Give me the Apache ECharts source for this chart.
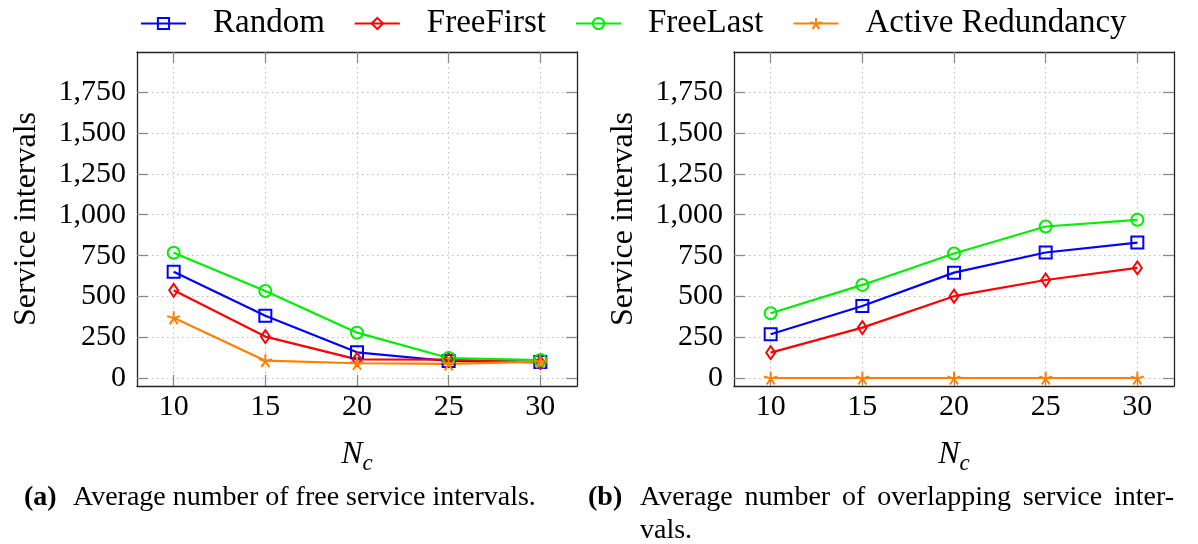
<!DOCTYPE html>
<html>
<head>
<meta charset="utf-8">
<script src="https://cdn.jsdelivr.net/npm/echarts@6/dist/echarts.min.js"></script>
<style>
  html, body { margin: 0; padding: 0; background: #fff; }
  #chart { width: 1198px; height: 544px; }
</style>
</head>
<body>
<div id="chart"></div>
<script>
// Number of components N_c
const nc = [10, 15, 20, 25, 30];
const xTicks = [10, 15, 20, 25, 30];
const yTicks = [0, 250, 500, 750, 1000, 1250, 1500, 1750];

// (a) average number of free service intervals
const freeRandom     = [652, 383, 159, 106, 100];
const freeFreeFirst  = [538, 255, 116, 114, 96];
const freeFreeLast   = [768, 534, 279, 124, 112];
const freeActive     = [371, 108, 92, 88, 102];

// (b) average number of overlapping service intervals
const overRandom     = [269, 442, 646, 769, 830];
const overFreeFirst  = [157, 310, 502, 601, 675];
const overFreeLast   = [398, 571, 763, 928, 969];
const overActive     = [2, 2, 2, 2, 2];

const seriesNames = ['Random', 'FreeFirst', 'FreeLast', 'Active Redundancy'];

const FONT = "'Liberation Serif', 'DejaVu Serif', serif";
const colors = {
  'Random': '#0000ff',
  'FreeFirst': '#ff0000',
  'FreeLast': '#00ee00',
  'Active Redundancy': '#ff8000'
};
const STAR = 'path://M0 -10 L0 0 M9.51 -3.09 L0 0 M5.88 8.09 L0 0 M-5.88 8.09 L0 0 M-9.51 -3.09 L0 0';
const symbols = {
  'Random': { symbol: 'rect', size: 12 },
  'FreeFirst': { symbol: 'diamond', size: [9, 13] },
  'FreeLast': { symbol: 'circle', size: 12 },
  'Active Redundancy': { symbol: STAR, size: 13 }
};

function pairs(xs, ys) { return xs.map((x, i) => [x, ys[i]]); }

function lineSeries(name, values, idx) {
  const c = colors[name];
  return {
    type: 'line',
    name: name,
    xAxisIndex: idx * 2,
    yAxisIndex: idx * 2,
    data: pairs(nc, values),
    symbol: symbols[name].symbol,
    symbolSize: symbols[name].size,
    showAllSymbol: true,
    lineStyle: { color: c, width: 2.2 },
    itemStyle: { color: 'rgba(255,255,255,0)', borderColor: c, borderWidth: 2 },
    emphasis: { disabled: true },
    z: 3
  };
}

const gridLine = { show: true, lineStyle: { color: '#bdbdbd', type: [1.5, 3.5], width: 1 } };
const frameLine = { show: true, onZero: false, lineStyle: { color: '#222', width: 1.3 } };
const tickStyle = { color: '#8a8a8a', width: 1.3 };

function axesFor(idx) {
  const xs = [
    {
      gridIndex: idx, type: 'value', position: 'bottom', min: 8, max: 32,
      axisLine: frameLine,
      axisTick: { show: true, inside: true, length: 11, lineStyle: tickStyle, customValues: xTicks },
      axisLabel: { show: true, customValues: xTicks, margin: 6, color: '#000', fontFamily: FONT, fontSize: 30 },
      splitLine: gridLine,
      name: '{n|N}{c|c}',
      nameLocation: 'middle',
      nameGap: 48,
      nameTextStyle: {
        rich: {
          n: { fontFamily: FONT, fontStyle: 'italic', fontSize: 32, color: '#000' },
          c: { fontFamily: FONT, fontStyle: 'italic', fontSize: 23, color: '#000', verticalAlign: 'bottom', padding: [18, 0, 0, 0] }
        }
      }
    },
    {
      gridIndex: idx, type: 'value', position: 'top', min: 8, max: 32,
      axisLine: frameLine,
      axisTick: { show: true, inside: true, length: 11, lineStyle: tickStyle, customValues: xTicks },
      axisLabel: { show: false },
      splitLine: { show: false }
    }
  ];
  const ys = [
    {
      gridIndex: idx, type: 'value', position: 'left', min: -47, max: 1995,
      axisLine: frameLine,
      axisTick: { show: true, inside: true, length: 11, lineStyle: tickStyle, customValues: yTicks },
      axisLabel: {
        show: true, customValues: yTicks, margin: 11, color: '#000', fontFamily: FONT, fontSize: 30,
        formatter: v => Number(v).toLocaleString('en-US')
      },
      splitLine: gridLine,
      name: 'Service intervals',
      nameLocation: 'middle',
      nameGap: 94,
      nameTextStyle: { fontFamily: FONT, fontSize: 32, color: '#000' }
    },
    {
      gridIndex: idx, type: 'value', position: 'right', min: -47, max: 1995,
      axisLine: frameLine,
      axisTick: { show: true, inside: true, length: 11, lineStyle: tickStyle, customValues: yTicks },
      axisLabel: { show: false },
      splitLine: { show: false }
    }
  ];
  return { xs, ys };
}

const a0 = axesFor(0);
const a1 = axesFor(1);

// Caption text
const CAP_SIZE = 28;
const measureCtx = document.createElement('canvas').getContext('2d');
function textWidth(t, bold) {
  measureCtx.font = (bold ? 'bold ' : '') + CAP_SIZE + 'px ' + FONT;
  return measureCtx.measureText(t).width;
}
function word(text, x, y, bold) {
  return {
    type: 'text', x: x, y: y,
    style: {
      text: text, fontFamily: FONT, fontSize: CAP_SIZE, fill: '#000',
      fontWeight: bold ? 'bold' : 'normal', verticalAlign: 'middle', align: 'left'
    }
  };
}
// Lay out a justified line of words between x0 and x1
function justified(words, x0, x1, y) {
  const widths = words.map(w => textWidth(w, false));
  const total = widths.reduce((s, w) => s + w, 0);
  const gap = (x1 - x0 - total) / (words.length - 1);
  const out = [];
  let x = x0;
  words.forEach((w, i) => { out.push(word(w, x, y, false)); x += widths[i] + gap; });
  return out;
}

const captionY1 = 498;
const captionY2 = 531;
const captions = [
  word('(a)', 24, captionY1, true),
  word('Average number of free service intervals.', 73, captionY1, false),
  word('(b)', 588, captionY1, true)
].concat(
  justified(['Average', 'number', 'of', 'overlapping', 'service', 'inter-'], 640, 1174, captionY1),
  [word('vals.', 640, captionY2, false)]
);

const chart = echarts.init(document.getElementById('chart'), null, { renderer: 'canvas' });
chart.setOption({
  animation: false,
  backgroundColor: '#fff',
  legend: {
    data: seriesNames,
    left: 135,
    top: 2,
    itemWidth: 45,
    itemHeight: 14,
    itemGap: 29,
    textStyle: { fontFamily: FONT, fontSize: 33, color: '#000', padding: [0, 0, 0, 22] }
  },
  grid: [
    { left: 137, top: 52, width: 440, height: 334 },
    { left: 734, top: 52, width: 440, height: 334 }
  ],
  xAxis: a0.xs.concat(a1.xs),
  yAxis: a0.ys.concat(a1.ys),
  series: [
    lineSeries('Random', freeRandom, 0),
    lineSeries('FreeFirst', freeFreeFirst, 0),
    lineSeries('FreeLast', freeFreeLast, 0),
    lineSeries('Active Redundancy', freeActive, 0),
    lineSeries('Random', overRandom, 1),
    lineSeries('FreeFirst', overFreeFirst, 1),
    lineSeries('FreeLast', overFreeLast, 1),
    lineSeries('Active Redundancy', overActive, 1)
  ],
  graphic: captions
});
</script>
</body>
</html>
